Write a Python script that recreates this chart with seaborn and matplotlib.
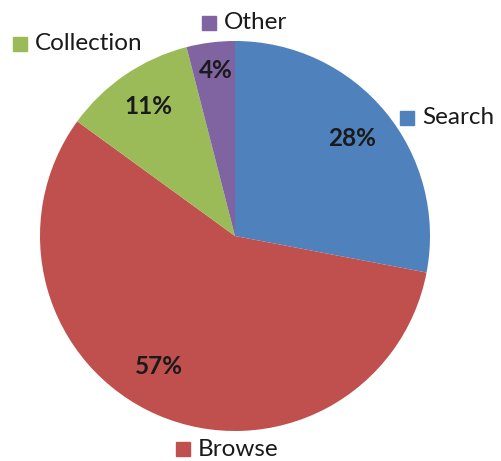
import matplotlib
matplotlib.use("Agg")
import matplotlib.pyplot as plt
import seaborn as sns

sns.set_theme(style="white")
plt.rcParams["font.family"] = ["Lato", "DejaVu Sans"]

# Share of sessions by entry type
categories = ["Search", "Browse", "Collection", "Other"]
shares = [28, 57, 11, 4]
colors = ["#4F81BD", "#C0504D", "#9BBB59", "#8064A2"]

# Label placement (pixel coordinates, y measured from the top)
pct_pos = [(352, 139), (159, 367), (148, 107), (216, 71)]
legend_pos = [(407, 118), (183, 449), (20, 44), (209, 23)]

W, H = 501, 461
fig = plt.figure(figsize=(W / 100, H / 100), dpi=100)
ax = fig.add_axes([0, 0, 1, 1])

cx, cy, r = 235, H - 236, 195
ax.pie(shares, colors=colors, startangle=90, counterclock=False,
       center=(cx, cy), radius=r, frame=True,
       wedgeprops=dict(linewidth=0))
ax.set_xlim(0, W)
ax.set_ylim(0, H)
ax.set_aspect("equal")
ax.axis("off")

for val, (x, y) in zip(shares, pct_pos):
    ax.text(x, H - y, f"{val}%", ha="center", va="center",
            fontsize=17.5, fontweight="bold", color="#1a1a1a")

for name, col, (x, y) in zip(categories, colors, legend_pos):
    ax.plot([x], [H - y], marker="s", markersize=9.5, color=col,
            linestyle="none", clip_on=False)
    ax.text(x + 15, H - y, name, ha="left", va="center",
            fontsize=17.5, color="#1a1a1a")

fig.savefig("out.png", dpi=100)
